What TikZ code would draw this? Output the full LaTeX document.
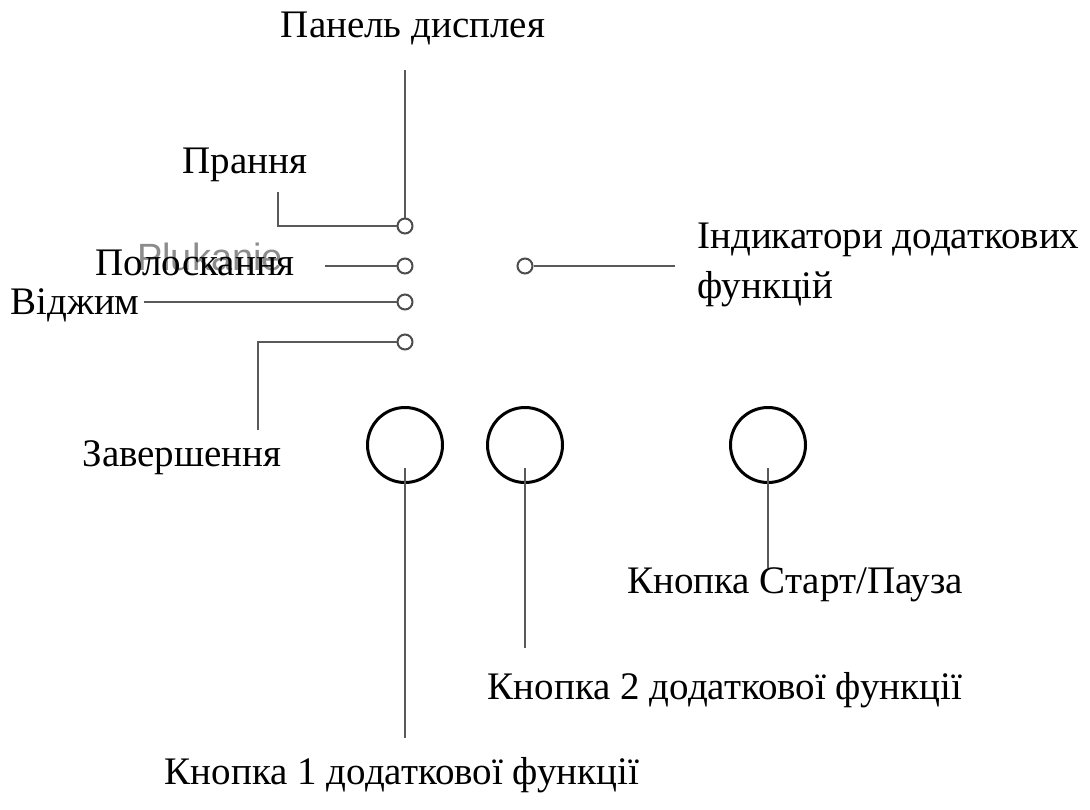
\documentclass[tikz,border=0pt]{standalone}
\usepackage{fontspec}
\setmainfont{Liberation Serif}
\newfontfamily\ghostfont{Liberation Sans}
\usetikzlibrary{positioning}

\begin{document}
\begin{tikzpicture}[x=0.5pt, y=-0.5pt,
    label/.style={font=\fontsize{19.5}{25}\selectfont, inner sep=2pt},
    lamp/.style={circle, draw=black!70, line width=1pt, minimum size=7.5pt, inner sep=0pt},
    button/.style={circle, draw=black, line width=1.5pt, minimum size=37.5pt, inner sep=0pt},
    wire/.style={draw=black!65, line width=1pt}]

    \useasboundingbox (0,0) rectangle (1090,809);

    % Display panel and its lamps
    \node[label] (panel) at (413,28) {Панель дисплея};
    \node[lamp] (l1) at (405,226) {};
    \node[lamp] (l2) at (405,266) {};
    \node[lamp] (l3) at (405,302) {};
    \node[lamp] (l4) at (405,342) {};
    \node[lamp] (l5) at (525,266) {};

    % Lamp labels
    \node[label, text=black!45, font=\fontsize{19}{23}\ghostfont] (ghost) at (210,257) {Plukanie};
    \node[label] (wash) at (245,165) {Прання};
    \node[label] (rinse) at (195,263) {Полоскання};
    \node[label, anchor=west] (spin) at (6,305) {Віджим};
    \node[label] (finish) at (182,458) {Завершення};
    \node[label, anchor=west, align=left] (extra) at (693,265) {Індикатори додаткових\\функцій};

    % Free ends of the lamp wires
    \coordinate (panelend) at (405,70);
    \coordinate (washend) at (278,192);
    \coordinate (rinseend) at (325,266);
    \coordinate (finishend) at (258,430);
    \coordinate (extraend) at (675,266);

    \draw[wire] (panelend) -- (l1);
    \draw[wire] (washend) |- (l1);
    \draw[wire] (rinseend) -- (l2);
    \draw[wire] (spin.east |- l3) -- (l3);
    \draw[wire] (finishend) |- (l4);
    \draw[wire] (l5) -- (extraend);

    % Buttons
    \node[button] (b1) at (405,445) {};
    \node[button] (b2) at (525,445) {};
    \node[button] (b3) at (768,445) {};

    \node[label] (k1) at (402,775) {Кнопка 1 додаткової функції};
    \node[label] (k2) at (725,690) {Кнопка 2 додаткової функції};
    \node[label] (k3) at (795,585) {Кнопка Старт/Пауза};

    \coordinate (k1end) at (405,738);
    \coordinate (k2end) at (525,648);
    \coordinate (k3end) at (768,568);

    \draw[wire] ([yshift=-11.5pt]b1.center) -- (k1end);
    \draw[wire] ([yshift=-11.5pt]b2.center) -- (k2end);
    \draw[wire] ([yshift=-11.5pt]b3.center) -- (k3end);

\end{tikzpicture}
\end{document}
